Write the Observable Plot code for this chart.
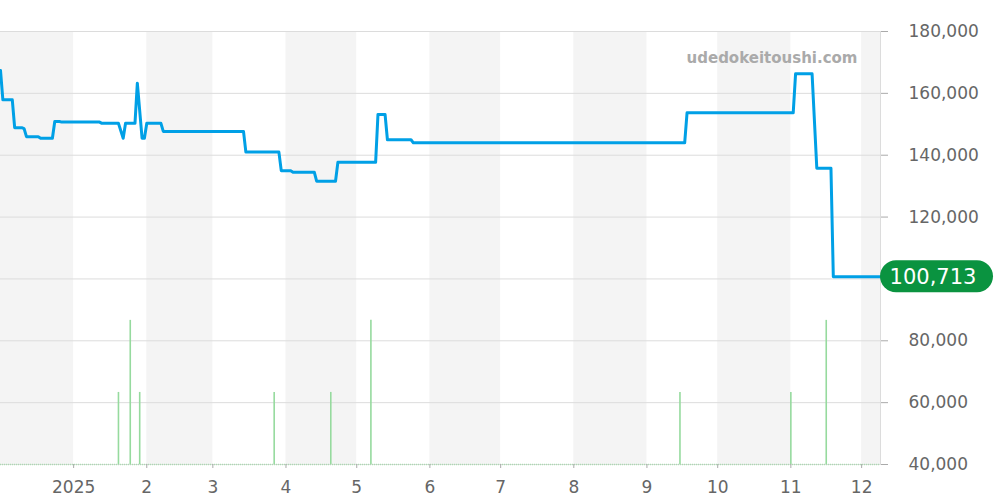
<!DOCTYPE html>
<html>
<head>
<meta charset="utf-8">
<script src="https://cdn.jsdelivr.net/npm/d3@7"></script>
<script src="https://cdn.jsdelivr.net/npm/@observablehq/plot@0.6"></script>
<style>
  html, body { margin: 0; padding: 0; background: #fff; }
</style>
</head>
<body>
<div id="chart"></div>
<script>
// ---- data ----
const priceDates = [
  "2024-12-01","2024-12-02","2024-12-06","2024-12-07","2024-12-10","2024-12-11","2024-12-12",
  "2024-12-17","2024-12-18","2024-12-23","2024-12-24","2024-12-26","2024-12-27",
  "2025-01-12","2025-01-13","2025-01-20","2025-01-22","2025-01-23","2025-01-27","2025-01-28",
  "2025-01-30","2025-01-31","2025-02-01","2025-02-07","2025-02-08","2025-03-14","2025-03-15",
  "2025-03-29","2025-03-30","2025-04-03","2025-04-04","2025-04-13","2025-04-14","2025-04-22",
  "2025-04-23","2025-05-09","2025-05-10","2025-05-13","2025-05-14","2025-05-24","2025-05-25",
  "2025-09-17","2025-09-18","2025-11-02","2025-11-03","2025-11-10","2025-11-12","2025-11-18",
  "2025-11-19","2025-12-09"
];
const priceValues = [
  167400,157900,157900,148900,148900,148600,146000,
  146000,145500,145500,150900,150900,150700,
  150700,150300,150300,145500,150300,150300,163300,
  145500,145500,150300,150300,147700,147700,141000,
  141000,135000,135000,134500,134500,131600,131600,
  137700,137700,153200,153200,145000,145000,144000,
  144000,153700,153700,166300,166300,135800,135800,
  100713,100713
];
const volumeDates = ["2025-01-20","2025-01-25","2025-01-29","2025-03-27","2025-04-20","2025-05-07","2025-09-15","2025-11-01","2025-11-16"];
const volumeCounts = [1,2,1,1,1,2,1,1,2];
const bandStarts = ["2024-12-01","2025-02-01","2025-04-01","2025-06-01","2025-08-01","2025-10-01","2025-12-01"];
const bandEnds   = ["2025-01-01","2025-03-01","2025-05-01","2025-07-01","2025-09-01","2025-11-01","2025-12-09"];
const xTickDates = ["2025-01-01","2025-02-01","2025-03-01","2025-04-01","2025-05-01","2025-06-01","2025-07-01","2025-08-01","2025-09-01","2025-10-01","2025-11-01","2025-12-01"];
const yTicks = [40000,60000,80000,100000,120000,140000,160000,180000];
const watermark = "udedokeitoushi.com";

// ---- build tables ----
const series = priceDates.map((d, i) => ({date: new Date(d), price: priceValues[i]}));
const volumes = volumeDates.map((d, i) => ({date: new Date(d), count: volumeCounts[i]}));
const bands = bandStarts.map((d, i) => ({start: new Date(d), end: new Date(bandEnds[i])}));
const xTicks = xTickDates.map(d => new Date(d));
const last = series[series.length - 1];

const yBase = 40000;
const volUnit = 23300; // volume count -> secondary scale
const green = "#96da9e";
const marginRight = 120;
const W = 1000;
const fmt = d3.format(",");
// tick labels hidden by the current-price pill (within 20,000/2 of the last price)
const labelFor = d => Math.abs(d - last.price) < 6000 ? "" : fmt(d);

const chart = Plot.plot({
  width: W,
  height: 500,
  marginLeft: 0,
  marginRight: marginRight,
  marginTop: 31,
  marginBottom: 36,
  style: {fontFamily: "'DejaVu Sans', sans-serif", fontSize: "17px", color: "#666", background: "#fff", overflow: "visible"},
  x: {type: "utc", domain: [new Date("2024-12-01"), new Date("2025-12-09")]},
  y: {domain: [40000, 180000]},
  marks: [
    Plot.rect(bands, {x1: "start", x2: "end", fill: "#f4f4f4"}),
    Plot.gridY(yTicks, {stroke: "#dcdcdc", strokeOpacity: 1}),
    Plot.frame({anchor: "right", stroke: "#dcdcdc"}),
    Plot.ruleY([yBase], {stroke: green, strokeWidth: 1.5, strokeOpacity: 0.7, strokeDasharray: "1,1"}),
    Plot.ruleX(volumes, {x: "date", y1: yBase, y2: d => yBase + d.count * volUnit, stroke: green, strokeWidth: 1.6}),
    Plot.line(series, {x: "date", y: "price", stroke: "#00a0e6", strokeWidth: 3, strokeLinejoin: "round"}),
    Plot.axisY({ticks: yTicks, anchor: "right", tickSize: 7, tickPadding: 21, stroke: "#aaa", tickFormat: labelFor, label: null}),
    Plot.axisX({ticks: xTicks, tickSize: 4, tickPadding: 12, stroke: "#aaa", label: null,
      tickFormat: d => d.getUTCMonth() === 0 ? String(d.getUTCFullYear()) : String(d.getUTCMonth() + 1)}),
    Plot.text([watermark], {frameAnchor: "top-right", dx: -23, dy: 21, fontWeight: "bold", fontSize: 15, fill: "#aaa", textAnchor: "end"})
  ]
});

// price label pill at the right axis, positioned through the plot's y scale
const ySc = chart.scale("y");
const py = ySc.apply(last.price);
const px = W - marginRight;
const svg = d3.select(chart);
const g = svg.append("g");
g.append("rect")
  .attr("x", px).attr("y", py - 16).attr("width", 113).attr("height", 32)
  .attr("rx", 16).attr("ry", 16).attr("fill", "#0a9340");
g.append("text")
  .attr("x", px + 53).attr("y", py).attr("dy", "0.35em")
  .attr("text-anchor", "middle").attr("fill", "#fff")
  .style("font-family", "'DejaVu Sans', sans-serif").style("font-size", "21px")
  .text(fmt(last.price));

document.getElementById("chart").appendChild(chart);
</script>
</body>
</html>
